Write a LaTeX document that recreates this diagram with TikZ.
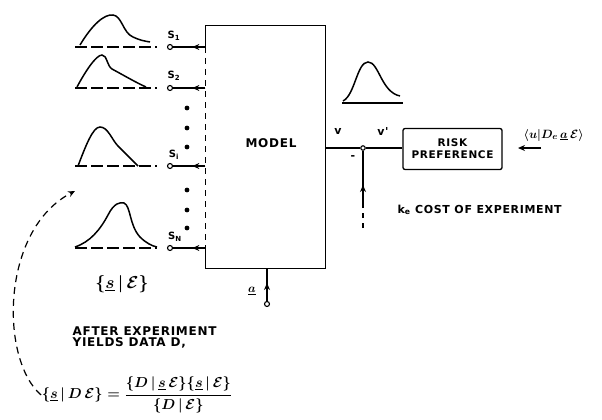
\documentclass[tikz,border=0pt]{standalone}
\usepackage{fontspec}
\newfontfamily\lettering[LetterSpace=6]{DejaVu Sans}
\usetikzlibrary{arrows.meta}
\begin{document}
\begin{tikzpicture}[x=1pt,y=-1pt,line width=1.3pt,
  lbl/.style={font=\lettering\bfseries\fontsize{11}{11}\selectfont,inner sep=0pt},
  mth/.style={font=\boldmath\fontsize{13}{14}\selectfont,inner sep=0pt},
  tip/.style={-{Stealth[length=7pt,width=6pt]}},
  port/.style={circle,draw,fill=white,inner sep=0pt,minimum size=5pt,line width=1.1pt},
  base/.style={line width=1.1pt,dash pattern=on 12pt off 4pt},
  dens/.style={line width=1.5pt}]
\useasboundingbox (0,0) rectangle (602,420);

% model box
\node[minimum width=119pt,minimum height=242pt,inner sep=0pt] (model) at (265.5,147) {};
\node[lbl,font=\lettering\bfseries\fontsize{12}{12}\selectfont] (modeltxt) at (271,143) {MODEL};

% input ports
\node[port] (o1) at (170,47) {};
\node[port] (o2) at (170,88) {};
\node[port] (oi) at (170,166) {};
\node[port] (oN) at (170,248) {};

% box border (left side dashed between inputs)
\draw (model.west |- o1) -- (model.north west) -- (model.north east) -- (model.south east) -- (model.south west) -- (model.west |- oN);
\draw[line width=1.1pt,dash pattern=on 6pt off 5pt] (model.west |- o1) -- (model.west |- oN);

% input connectors
\foreach \p in {o1,o2,oi,oN}{
  \draw (model.west |- \p) -- (\p);
  \draw[tip] (model.west |- \p) -- ++(-13,0);
}

% port labels
\node[lbl,font=\lettering\bfseries\fontsize{10}{10}\selectfont] (l1) at (174,36) {S\textsubscript{1}};
\node[lbl,font=\lettering\bfseries\fontsize{10}{10}\selectfont] (l2) at (174,76) {S\textsubscript{2}};
\node[lbl,font=\lettering\bfseries\fontsize{10}{10}\selectfont] (li) at (174,155) {S\textsubscript{i}};
\node[lbl,font=\lettering\bfseries\fontsize{10}{10}\selectfont] (lN) at (175,237) {S\textsubscript{N}};

% dots
\foreach \y in {108,128,147,190,210,228}{
  \fill (187,\y) circle (2.4pt);
}

% density curves
\draw[base] (75,47) -- (157,47);
\draw[dens] (80,45) .. controls (92,25) and (104,14) .. (113,15) .. controls (122,16) and (123,33) .. (133,37) .. controls (139,40) and (144,41) .. (150,42);
\draw[base] (75,88) -- (157,88);
\draw[dens] (77,87) .. controls (85,72) and (96,55) .. (102,55) .. controls (107,55) and (107,66) .. (112,69) .. controls (125,76) and (135,82) .. (146,87);
\draw[base] (75,166) -- (157,166);
\draw[dens] (78,166) .. controls (86,145) and (93,127) .. (100,127) .. controls (108,127) and (112,140) .. (118,146) .. controls (126,154) and (132,160) .. (138,166);
\draw[base] (75,248) -- (157,248);
\draw[dens] (75,247) .. controls (90,242) and (100,230) .. (108,215) .. controls (114,203) and (120,202) .. (124,203) .. controls (131,206) and (129,225) .. (140,237) .. controls (146,243) and (152,246) .. (157,247);

\node[mth,font=\boldmath\fontsize{16}{16}\selectfont] (prior) at (122,284) {$\{\underline{s}\,|\,\mathcal{E}\}$};

% output side
\node[port,minimum size=4.5pt] (j) at (363,148) {};
\node[draw,rounded corners=2pt,minimum width=99pt,minimum height=41pt,align=center,lbl,inner sep=0pt,font=\lettering\bfseries\fontsize{10.5}{12}\selectfont] (risk) at (452.5,149) {RISK\\PREFERENCE};
\draw (model.east |- j) -- (j);
\draw (j) -- (risk.west |- j);
\node[lbl] (v) at (338,131) {v};
\node[lbl] (vp) at (383,131) {v'};
\node[lbl] (minus) at (353,158) {-};

\draw[line width=1.3pt] (342,103) -- (403,103);
\draw[dens] (343,101) .. controls (355,95) and (357,62) .. (368,62) .. controls (379,62) and (381,92) .. (400,96);

\coordinate (outend) at (541,148);
\draw[tip] (outend) -- (518,148);
\node[mth,font=\boldmath\fontsize{12.5}{13}\selectfont,anchor=west] (util) at (523,135) {$\langle u|D_e\,\underline{a}\,\mathcal{E}\rangle$};

% cost of experiment
\coordinate (costend) at (363,228);
\draw[line width=1.1pt,dash pattern=on 5pt off 5pt] (costend) -- (363,203);
\draw[tip] (363,204) -- (363,185);
\draw (363,188) -- (j.south);
\node[lbl,anchor=west] (cost) at (397,210) {k\textsubscript{e} COST OF EXPERIMENT};

% decision input a
\node[port] (ao) at (267,304) {};
\draw[line width=1.1pt,dash pattern=on 3pt off 3pt] (ao) -- (267,298);
\draw[tip] (267,299) -- (267,283);
\draw (267,286) -- (model.south -| ao);
\node[mth] (alab) at (252,291) {$\underline{a}$};

% update text
\node[lbl,anchor=north west,align=left,font=\lettering\bfseries\fontsize{12}{11}\selectfont] (after) at (72,326) {AFTER EXPERIMENT\\YIELDS DATA D,};
\node[mth,font=\boldmath\fontsize{15}{16}\selectfont] (bayes) at (137,395) {$\{\underline{s}\,|\,D\,\mathcal{E}\} = \displaystyle\frac{\{D\,|\,\underline{s}\,\mathcal{E}\}\{\underline{s}\,|\,\mathcal{E}\}}{\{D\,|\,\mathcal{E}\}}$};

\draw[line width=1.2pt,dash pattern=on 7pt off 5pt,tip] (bayes.west) .. controls (0,360) and (0,230) .. (75,191);
\end{tikzpicture}
\end{document}
